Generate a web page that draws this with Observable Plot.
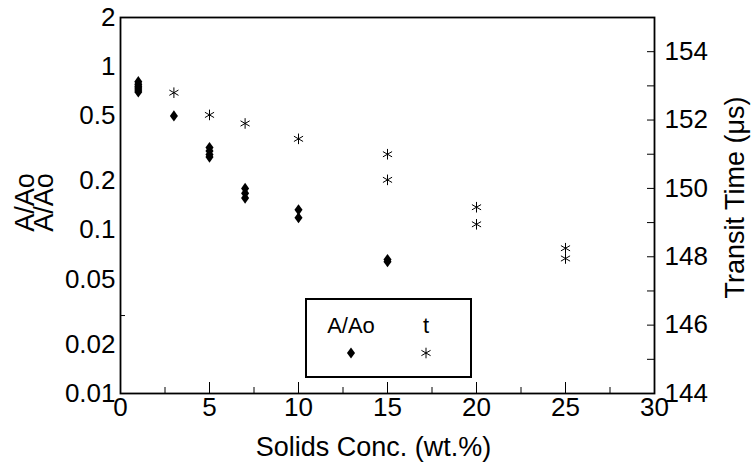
<!DOCTYPE html>
<html>
<head>
<meta charset="utf-8">
<script src="https://cdn.jsdelivr.net/npm/d3@7"></script>
<script src="https://cdn.jsdelivr.net/npm/@observablehq/plot@0.6"></script>
<style>
  html, body { margin: 0; padding: 0; background: #fff; }
  #wrap { position: relative; width: 755px; height: 465px; font-family: "Liberation Sans", Arial, sans-serif; }
  #legend { position: absolute; left: 305px; top: 298px; width: 163px; height: 76px; border: 2px solid #000; background: #fff; }
  #legend span { position: absolute; font-size: 22px; transform: translate(-50%, -50%); white-space: nowrap; }
  #legend svg { position: absolute; }
</style>
</head>
<body>
<div id="wrap"></div>
<script>
// A/Ao (left, log axis) vs solids concentration
const aConc  = [1, 1, 1, 1, 1, 1, 3, 5, 5, 5, 5, 7, 7, 7, 10, 10, 15, 15];
const aRatio = [0.81, 0.78, 0.76, 0.74, 0.72, 0.70, 0.50, 0.32, 0.305, 0.29, 0.28, 0.18, 0.168, 0.157, 0.133, 0.119, 0.066, 0.064];
// Transit time t (right axis, µs)
const tConc = [3, 5, 7, 10, 15, 15, 20, 20, 25, 25];
const tTime = [152.8, 152.15, 151.9, 151.45, 151.0, 150.25, 149.45, 148.95, 148.25, 147.95];
// Axis ticks
const xMajor = [0, 5, 10, 15, 20, 25, 30];
const xMinor = [2.5, 7.5, 12.5, 17.5, 22.5, 27.5];
const yLeftTicks = [0.01, 0.02, 0.05, 0.1, 0.2, 0.5, 1, 2];
const yLeftMarks = [0.03];
const tTickLabels = [144, 146, 148, 150, 152, 154];
const tTickMarks = [145, 146, 147, 148, 149, 150, 151, 152, 153, 154];
const tDomain = [144, 155];
const yDomain = [0.01, 2];

// map transit time onto the shared (log) y scale
const tToY = t => yDomain[0] * Math.pow(yDomain[1] / yDomain[0], (t - tDomain[0]) / (tDomain[1] - tDomain[0]));

const aData = aConc.map((x, i) => ({x, y: aRatio[i]}));
const tData = tConc.map((x, i) => ({x, y: tToY(tTime[i])}));

const tallDiamond = {
  draw(ctx, size) {
    const r = Math.sqrt(size / Math.PI);
    const h = r, w = r * 0.72;
    ctx.moveTo(0, -h); ctx.lineTo(w, 0); ctx.lineTo(0, h); ctx.lineTo(-w, 0); ctx.closePath();
  }
};

const W = 755, H = 465, mL = 120, mR = 101, mT = 17, mB = 72;
const fw = W - mL - mR, fh = H - mT - mB;
const FS = 26;

const chart = Plot.plot({
  width: W, height: H,
  marginLeft: mL, marginRight: mR, marginTop: mT, marginBottom: mB,
  style: {fontFamily: '"Liberation Sans", Arial, sans-serif', fontSize: FS + "px", color: "#000", background: "#fff", overflow: "visible"},
  x: {domain: [0, 30]},
  y: {type: "log", domain: yDomain},
  marks: [
    Plot.frame({stroke: "#000", strokeWidth: 1.8}),
    Plot.axisX({ticks: xMajor, tickSize: 0, tickPadding: 4, tickFormat: d => String(d), label: null, fontSize: FS}),
    Plot.tickX(xMajor, {x: d => d, insetTop: fh - 11, stroke: "#000"}),
    Plot.tickX(xMinor, {x: d => d, insetTop: fh - 6, stroke: "#000"}),
    Plot.axisY({anchor: "left", ticks: yLeftTicks, tickSize: 0, tickPadding: 5, tickFormat: d => String(d), label: null, fontSize: FS}),
    Plot.tickY(yLeftMarks, {y: d => d, insetRight: fw - 5, stroke: "#000"}),
    Plot.text(tTickLabels, {y: d => tToY(d), text: d => String(d), frameAnchor: "right", textAnchor: "start", dx: 10, fontSize: FS}),
    Plot.tickY(tTickMarks.map(tToY), {y: d => d, insetLeft: fw - 7, stroke: "#000"}),
    Plot.text(["Solids Conc. (wt.%)"], {frameAnchor: "bottom", lineAnchor: "bottom", textAnchor: "middle", dx: -14, dy: 62, fontSize: 27}),
    Plot.text(["A/Ao"], {frameAnchor: "left", rotate: -90, textAnchor: "middle", dx: -95, dy: -3, fontSize: 27}),
    Plot.text(["A/Ao"], {frameAnchor: "left", rotate: -90, textAnchor: "middle", dx: -76, dy: -3, fontSize: 27}),
    Plot.text(["Transit Time (μs)"], {frameAnchor: "right", rotate: -90, textAnchor: "middle", dx: 81, dy: -8, fontSize: 27}),
    Plot.dot(aData, {x: "x", y: "y", symbol: tallDiamond, r: 5.6, fill: "#000", stroke: "none"}),
    Plot.dot(tData, {x: "x", y: "y", symbol: "asterisk", r: 5, stroke: "#000", strokeWidth: 1})
  ]
});

const wrap = document.getElementById("wrap");
wrap.appendChild(chart);

// legend
const legend = document.createElement("div");
legend.id = "legend";
const series = [
  {name: "A/Ao", cx: 44, sym: tallDiamond, fill: "#000", stroke: "none", size: Math.PI * 5.6 * 5.6},
  {name: "t", cx: 119, sym: d3.symbolAsterisk, fill: "none", stroke: "#000", size: Math.PI * 5 * 5}
];
for (const s of series) {
  const lab = document.createElement("span");
  lab.textContent = s.name;
  lab.style.left = s.cx + "px";
  lab.style.top = "26px";
  legend.appendChild(lab);
  const svg = d3.create("svg").attr("width", 16).attr("height", 16)
    .style("left", (s.cx - 8) + "px").style("top", "45px");
  svg.append("path").attr("transform", "translate(8,8)")
    .attr("d", d3.symbol(s.sym, s.size)())
    .attr("fill", s.fill).attr("stroke", s.stroke);
  legend.appendChild(svg.node());
}
wrap.appendChild(legend);
</script>
</body>
</html>
